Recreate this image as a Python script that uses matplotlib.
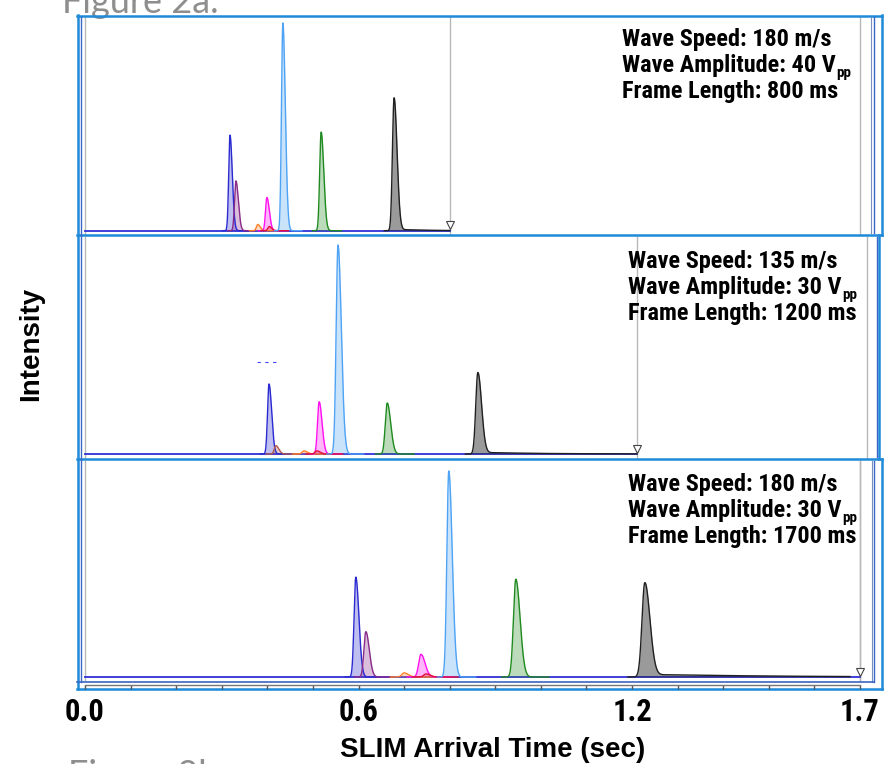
import numpy as np
import matplotlib
matplotlib.use("Agg")
import matplotlib.pyplot as plt
from matplotlib import font_manager

W, H = 884, 764


def pick_font(names):
    for name in names:
        try:
            font_manager.findfont(font_manager.FontProperties(family=name, weight="bold"),
                                  fallback_to_default=False)
            return name
        except ValueError:
            pass
    return None


NARROW = pick_font(["Liberation Sans Narrow", "Roboto Condensed", "Open Sans Condensed"])
plt.rcParams["font.family"] = ["Liberation Sans", "DejaVu Sans"]

# SLIM arrival time (s), relative intensity (% of base peak) and peak width (s)
times_a = [0.318, 0.331, 0.379, 0.399, 0.404, 0.434, 0.518, 0.678]
heights_a = [46, 24, 3, 16, 2, 100, 47.5, 64]
widths_a = [0.0028, 0.003, 0.003, 0.003, 0.003, 0.003, 0.0032, 0.0036]

times_b = [0.400, 0.415, 0.476, 0.509, 0.504, 0.550, 0.657, 0.854]
heights_b = [33.5, 4, 1.5, 25, 1.5, 100, 24.4, 39]
widths_b = [0.0032, 0.0035, 0.004, 0.0035, 0.004, 0.004, 0.0042, 0.0045]

times_c = [0.594, 0.616, 0.700, 0.737, 0.748, 0.798, 0.945, 1.228]
heights_c = [48.5, 22, 2, 11, 1.5, 100, 47.5, 45.8]
widths_c = [0.0038, 0.0042, 0.005, 0.005, 0.005, 0.0042, 0.0052, 0.0062]

colors_a = ["#2a2ad0", "#8a2a8a", "#ff7f27", "#ff10f0", "#e0103c", "#4ea3f5", "#1f8a1f", "#202020"]
colors_b = ["#2a2ad0", "#b05a50", "#ff7f27", "#ff10f0", "#e0103c", "#4ea3f5", "#1f8a1f", "#202020"]
colors_c = colors_a

# low trailing signal behind the last peak (height %, decay s)
tail_a = [0.8, 0.06]
tail_b = [0.9, 0.12]
tail_c = [1.4, 0.25]

frame_ends = [0.8, 1.2, 1.7]
wave_speed = [180, 135, 180]
wave_amp = [40, 30, 30]
frame_ms = [800, 1200, 1700]

tick_values = [0.0, 0.6, 1.2, 1.7]
tick_labels = ["0.0", "0.6", "1.2", "1.7"]

BORDER = "#1f8ad8"
INNER = "#3a66c8"
GRID = "#b8b8b8"

if NARROW:
    note_font = dict(family=[NARROW, "Liberation Sans"], fontsize=17.5, fontweight="bold")
    tick_font = dict(family=[NARROW, "Liberation Sans"], fontsize=22, fontweight="bold")
else:
    note_font = dict(family=["Liberation Sans"], fontsize=15.2, fontweight="bold")
    tick_font = dict(family=["Liberation Sans"], fontsize=20, fontweight="bold")

fig = plt.figure(figsize=(W / 100, H / 100), dpi=100)


def px_axes(x0, x1, ybase, ytop, z=2):
    ax = fig.add_axes([x0 / W, 1 - ybase / H, (x1 - x0) / W, (ybase - ytop) / H], zorder=z)
    ax.set_xlim(0, 1.7)
    ax.set_ylim(0, 100)
    ax.axis("off")
    ax.patch.set_alpha(0)
    return ax


def peak(t, c, h, w, tail=None):
    y = np.where(t < c, h * np.exp(-0.5 * ((t - c) / w) ** 2),
                 h * np.exp(-0.5 * ((t - c) / (1.8 * w)) ** 2))
    if tail is not None:
        d = np.clip(t - c, 0, None)
        y = y + tail[0] * np.exp(-d / tail[1]) * (1 - np.exp(-d / (3 * w)))
    return y


def draw_panel(ax, times, heights, widths, colors, tail, fend, top_frac):
    for x in (0.0, fend, 1.7):
        ax.axvline(x, -0.02, top_frac, color=GRID, lw=1.0, clip_on=False, zorder=1)
    ax.plot([0, fend], [0, 0], color="#3030d8", lw=1.3, clip_on=False, zorder=2)
    for i, (c, h, w, col) in enumerate(zip(times, heights, widths, colors)):
        last = i == len(times) - 1
        lo = c - 6 * w
        hi = min(fend, c + 0.45) if last else c + 14 * w
        t = np.linspace(lo, hi, 1500)
        y = peak(t, c, h, w, tail if last else None)
        ax.fill_between(t, 0, y, color=col, alpha=0.45 if last else 0.3, lw=0, zorder=3)
        ax.plot(t, y, color=col, lw=1.0, zorder=4, clip_on=False)
    ax.plot([fend], [2.6], marker="v", ms=6, mfc="white", mec="#444444", mew=0.8,
            clip_on=False, zorder=5)


ax_a = px_axes(85, 860, 230.7, 23)
ax_b = px_axes(85, 867, 454, 245)
ax_c = px_axes(85, 860, 677, 471)

draw_panel(ax_a, times_a, heights_a, widths_a, colors_a, tail_a, frame_ends[0], 1.03)
draw_panel(ax_b, times_b, heights_b, widths_b, colors_b, tail_b, frame_ends[1], 1.04)
draw_panel(ax_c, times_c, heights_c, widths_c, colors_c, tail_c, frame_ends[2], 1.05)
ax_b.plot([0.374, 0.424], [44, 44], ls=(0, (3, 4)), color="#4444ff", lw=0.8)

# frames around the three panels
ov = fig.add_axes([0, 0, 1, 1], zorder=6)
ov.set_xlim(0, W)
ov.set_ylim(H, 0)
ov.axis("off")
ov.patch.set_alpha(0)

for ys in (15.5, 235, 459, 689):
    ov.plot([77, 882], [ys, ys], color=BORDER, lw=1.8)
ov.plot([77.5, 77.5], [15, 689], color=BORDER, lw=1.8)
ov.plot([882, 882], [15, 235], color=BORDER, lw=1.8)
ov.plot([879, 879], [235, 459], color=BORDER, lw=1.8)
ov.plot([882, 882], [459, 689], color=BORDER, lw=1.8)
ov.plot([80.5, 80.5], [17, 682], color=INNER, lw=1.0)
ov.plot([871, 871], [17, 233], color="#7a8fc0", lw=0.8)
ov.plot([873.5, 873.5], [17, 233], color=INNER, lw=1.0)
ov.plot([877, 877], [237, 457], color=INNER, lw=1.0)
ov.plot([872, 872], [461, 682], color="#7a8fc0", lw=0.8)
ov.plot([874, 874], [461, 682], color=INNER, lw=1.0)
ov.plot([77, 874], [681.5, 681.5], color=INNER, lw=1.2)

renderer = fig.canvas.get_renderer()
panel_text = [(622, 46), (628, 267.7), (628, 491)]
for (tx, ty), ws, wa, fm in zip(panel_text, wave_speed, wave_amp, frame_ms):
    kw = dict(color="black", va="baseline", ha="left", **note_font)
    ov.text(tx, ty, f"Wave Speed: {ws} m/s", **kw)
    amp = ov.text(tx, ty + 26, f"Wave Amplitude: {wa} V", **kw)
    ov.text(tx, ty + 52, f"Frame Length: {fm} ms", **kw)
    # "pp" subscript after the volt sign
    bb = amp.get_window_extent(renderer)
    x_end = bb.x1 * W / fig.bbox.width
    sub = dict(note_font, fontsize=note_font["fontsize"] * 0.62)
    ov.text(x_end + 0.5, ty + 31, "pp", color="black", va="baseline", ha="left", **sub)

ov.text(62, 13, "Figure 2a.", fontsize=26, color="#8e8e8e", family=["Lato", "DejaVu Sans"],
        va="baseline", zorder=0)
ov.text(68, 786, "Figure 2b", fontsize=26, color="#8e8e8e", family=["Lato", "DejaVu Sans"],
        va="baseline", zorder=0)

# shared time axis under the bottom panel
ax_t = fig.add_axes([85 / W, 1 - 684.5 / H, 775 / W, 0.0001], zorder=7)
ax_t.set_xlim(0, 1.7)
ax_t.patch.set_alpha(0)
for s in ("top", "left", "right"):
    ax_t.spines[s].set_visible(False)
ax_t.spines["bottom"].set_color("#777777")
ax_t.spines["bottom"].set_linewidth(1.0)
ax_t.set_yticks([])
ax_t.set_xticks(np.arange(0, 1.75, 0.1), minor=True)
ax_t.set_xticks(tick_values)
ax_t.set_xticklabels(tick_labels, **tick_font)
ax_t.tick_params(axis="x", which="both", direction="out", length=3, width=1.0,
                 color="#555555", pad=6)

fig.text(493 / W, 1 - 757 / H, "SLIM Arrival Time (sec)", fontsize=20, fontweight="bold",
         ha="center", va="baseline")
fig.text(31 / W, 1 - 344 / H, "Intensity", fontsize=20, fontweight="bold",
         rotation=90, ha="center", va="center")

fig.savefig("out.png", dpi=100)
